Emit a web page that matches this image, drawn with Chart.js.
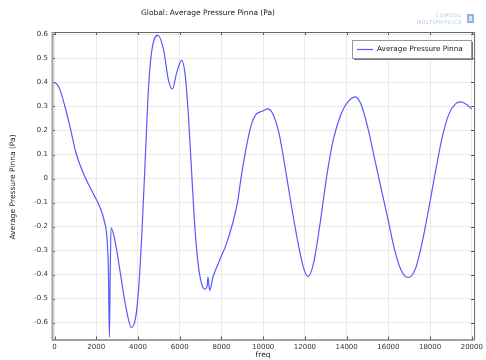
<!DOCTYPE html>
<html>
<head>
<meta charset="utf-8">
<script src="https://cdn.jsdelivr.net/npm/chart.js@4.4.1/dist/chart.umd.min.js"></script>
<style>
  html, body { margin: 0; padding: 0; background: #fff; }
  #wrap { width: 486px; height: 360px; }
</style>
</head>
<body>
<div id="wrap"><canvas id="chart" width="486" height="360"></canvas></div>
<script>
// frequency (Hz) and average pressure on the pinna (Pa)
var freq = [0, 120, 260, 500, 735, 1050, 1445, 1840, 2160, 2395, 2520, 2585, 2630, 2670, 2710,
    2950, 3185, 3420, 3690, 3895, 4040, 4195, 4355, 4510, 4670, 4955, 5225, 5460, 5650, 5855,
    6090, 6250, 6410, 6565, 6725, 6880, 7040, 7200, 7310, 7357, 7435, 7595, 7910, 8225, 8540,
    8780, 8935, 9170, 9410, 9650, 9965, 10200, 10440, 10755, 11070, 11385, 11705, 11940, 12145,
    12415, 12730, 13045, 13360, 13755, 14070, 14420, 14700, 15020, 15335, 15650, 15970, 16280,
    16600, 16945, 17310, 17630, 17940, 18260, 18575, 18890, 19205, 19475, 19760, 20000];
var pressure = [0.40, 0.392, 0.37, 0.30, 0.218, 0.10, 0.01, -0.06, -0.116, -0.18, -0.255, -0.39, -0.66, -0.40, -0.205,
    -0.283, -0.41, -0.535, -0.62, -0.575, -0.45, -0.213, 0.092, 0.384, 0.537, 0.596, 0.537, 0.41, 0.373, 0.44,
    0.492, 0.44, 0.273, 0.037, -0.20, -0.352, -0.435, -0.46, -0.45, -0.41, -0.466, -0.41, -0.34, -0.275, -0.185,
    -0.095, 0.0, 0.12, 0.217, 0.266, 0.28, 0.29, 0.273, 0.19, 0.037, -0.13, -0.283, -0.373, -0.408,
    -0.352, -0.185, 0.009, 0.162, 0.273, 0.32, 0.34, 0.307, 0.21, 0.085, -0.04, -0.165, -0.29,
    -0.38, -0.412, -0.373, -0.262, -0.123, 0.03, 0.169, 0.266, 0.31, 0.319, 0.307, 0.289];

var xTicks = [0, 2000, 4000, 6000, 8000, 10000, 12000, 14000, 16000, 18000, 20000];
var yTicks = [-0.6, -0.5, -0.4, -0.3, -0.2, -0.1, 0, 0.1, 0.2, 0.3, 0.4, 0.5, 0.6];

var seriesName = "Average Pressure Pinna";
var chartTitle = "Global: Average Pressure Pinna (Pa)";
var xTitle = "freq";
var yTitle = "Average Pressure Pinna (Pa)";

var FONT = "'DejaVu Sans', sans-serif";
var LINE = "rgb(88,88,255)";

// titles, legend, logo and the box with inward ticks
var decorations = {
    id: "decorations",
    afterDraw: function (chart) {
        var ctx = chart.ctx;
        var a = chart.chartArea;
        var xs = chart.scales.x, ys = chart.scales.y;
        ctx.save();

        // inward ticks
        ctx.strokeStyle = "#555";
        ctx.lineWidth = 1;
        ctx.beginPath();
        xs.ticks.forEach(function (t) {
            var px = Math.round(xs.getPixelForValue(t.value)) + 0.5;
            ctx.moveTo(px, a.bottom); ctx.lineTo(px, a.bottom - 3);
            ctx.moveTo(px, a.top); ctx.lineTo(px, a.top + 3);
        });
        ys.ticks.forEach(function (t) {
            var py = Math.round(ys.getPixelForValue(t.value)) + 0.5;
            ctx.moveTo(a.left, py); ctx.lineTo(a.left + 3, py);
            ctx.moveTo(a.right, py); ctx.lineTo(a.right - 3, py);
        });
        ctx.stroke();

        // frame
        ctx.strokeStyle = "#666";
        ctx.beginPath();
        ctx.moveTo(a.left, a.top + 0.5); ctx.lineTo(a.right + 0.5, a.top + 0.5);
        ctx.lineTo(a.right + 0.5, a.bottom);
        ctx.stroke();
        ctx.strokeStyle = "#444";
        ctx.beginPath();
        ctx.moveTo(a.left, a.bottom + 0.5); ctx.lineTo(a.right + 0.5, a.bottom + 0.5);
        ctx.stroke();
        ctx.strokeStyle = "#a0a0a0";
        ctx.lineWidth = 2;
        ctx.beginPath();
        ctx.moveTo(a.left + 0.5, a.top); ctx.lineTo(a.left + 0.5, a.bottom + 1);
        ctx.stroke();

        // title
        ctx.fillStyle = "#222";
        ctx.font = "7.5px " + FONT;
        ctx.textAlign = "center";
        ctx.textBaseline = "middle";
        ctx.fillText(chartTitle, 208, 13);

        // axis titles
        ctx.fillText(xTitle, (a.left + a.right) / 2, 355);
        ctx.save();
        ctx.translate(13, 187);
        ctx.rotate(-Math.PI / 2);
        ctx.fillText(yTitle, 0, 0);
        ctx.restore();

        // legend
        var lx = 352.5, ly = 40.5, lw = 119, lh = 18;
        ctx.fillStyle = "#777";
        ctx.fillRect(lx + 1.5, ly + 1.5, lw, lh);
        ctx.fillStyle = "#fff";
        ctx.fillRect(lx, ly, lw, lh);
        ctx.strokeStyle = "#999";
        ctx.lineWidth = 1;
        ctx.strokeRect(lx, ly, lw, lh);
        ctx.strokeStyle = LINE;
        ctx.lineWidth = 1.2;
        ctx.beginPath();
        ctx.moveTo(357, 49.5); ctx.lineTo(373, 49.5);
        ctx.stroke();
        ctx.fillStyle = "#222";
        ctx.font = "7.3px " + FONT;
        ctx.textAlign = "left";
        ctx.fillText(chart.data.datasets[0].label, 377, 49.5);

        // logo
        ctx.fillStyle = "#a9c9e6";
        ctx.font = "5px " + FONT;
        ctx.textAlign = "right";
        ctx.letterSpacing = "0.8px";
        ctx.fillText("COMSOL", 462, 15.5);
        ctx.fillText("MULTIPHYSICS", 462, 22.5);
        ctx.fillStyle = "#8fb6dc";
        ctx.fillRect(467, 14, 7, 9);
        ctx.fillStyle = "#d4e5f4";
        ctx.fillRect(469, 16, 3, 5);
        ctx.restore();
    }
};

var ctx = document.getElementById("chart").getContext("2d");
var chart = new Chart(ctx, {
    type: "line",
    data: {
        datasets: [{
            label: seriesName,
            data: freq.map(function (f, i) { return { x: f, y: pressure[i] }; }),
            borderColor: LINE,
            borderWidth: 1.2,
            pointRadius: 0,
            fill: false,
            cubicInterpolationMode: "monotone"
        }]
    },
    options: {
        responsive: false,
        animation: false,
        layout: { padding: { top: 32, right: 7, left: 0, bottom: 0 } },
        plugins: {
            legend: { display: false },
            tooltip: { enabled: false }
        },
        scales: {
            x: {
                type: "linear",
                min: -120,
                max: 20110,
                afterFit: function (s) { s.height = 20.5; },
                afterBuildTicks: function (s) { s.ticks = xTicks.map(function (v) { return { value: v }; }); },
                grid: { color: "#e9e9e9", drawTicks: false },
                border: { display: false },
                ticks: {
                    maxRotation: 0,
                    autoSkip: false,
                    padding: 3,
                    color: "#333",
                    font: { family: FONT, size: 7 },
                    callback: function (v) { return String(Math.round(v)); }
                }
            },
            y: {
                min: -0.67,
                max: 0.61,
                afterFit: function (s) { s.width = 52; },
                afterBuildTicks: function (s) { s.ticks = yTicks.map(function (v) { return { value: v }; }); },
                grid: { color: "#e9e9e9", drawTicks: false },
                border: { display: false },
                ticks: {
                    autoSkip: false,
                    padding: 4,
                    color: "#333",
                    font: { family: FONT, size: 7 },
                    callback: function (v) { return String(Math.round(v * 10) / 10); }
                }
            }
        }
    },
    plugins: [decorations]
});
</script>
</body>
</html>
